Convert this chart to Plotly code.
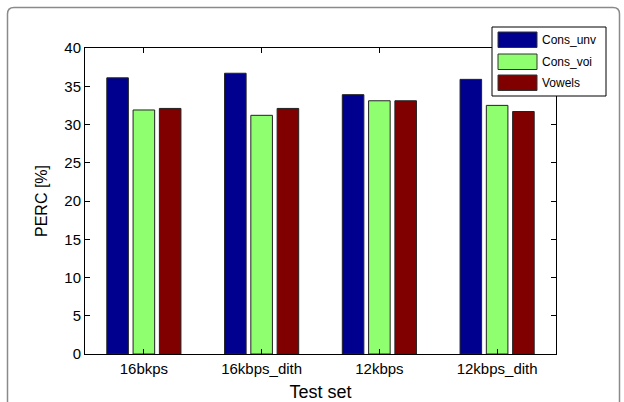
import plotly.graph_objects as go

# ---- data ----
categories = ["16bkps", "16kbps_dith", "12kbps", "12kbps_dith"]
series_names = ["Cons_unv", "Cons_voi", "Vowels"]
cons_unv = [36.1, 36.7, 33.9, 35.9]
cons_voi = [31.9, 31.2, 33.1, 32.5]
vowels = [32.1, 32.1, 33.1, 31.7]
series_values = [cons_unv, cons_voi, vowels]
series_colors = ["#00008F", "#8FFF70", "#800000"]
y_ticks = [0, 5, 10, 15, 20, 25, 30, 35, 40]

W, H = 624, 402
L, R, T, B = 85, 556, 48, 354
PW, PH = R - L, B - T

def px(x):
    return (x - L) / PW

def py(y):
    return (B - y) / PH

FONT = "Liberation Sans, Arial, Helvetica, sans-serif"

fig = go.Figure()
for name, vals, col in zip(series_names, series_values, series_colors):
    fig.add_trace(go.Bar(
        x=categories, y=vals, name=name,
        marker=dict(color=col, line=dict(color="#222222", width=1)),
        showlegend=False,
    ))

fig.update_layout(
    width=W, height=H,
    margin=dict(l=L, r=W - R, t=T, b=H - B, autoexpand=False),
    paper_bgcolor="white", plot_bgcolor="white",
    barmode="group", bargap=0.33, bargroupgap=0.18,
    font=dict(family=FONT, color="black", size=13),
)
fig.update_xaxes(
    automargin=False,
    showline=True, linecolor="black", linewidth=1, mirror="ticks",
    ticks="inside", ticklen=5, tickcolor="black",
    tickfont=dict(size=15, family=FONT), ticklabelstandoff=1,
    title=dict(text="Test set", font=dict(size=18, family=FONT), standoff=14),
    showgrid=False, zeroline=False,
)
fig.update_yaxes(
    automargin=False,
    range=[0, 40], tickvals=y_ticks,
    showline=True, linecolor="black", linewidth=1, mirror="ticks",
    ticks="inside", ticklen=5, tickcolor="black",
    tickfont=dict(size=15, family=FONT),
    title=dict(text="PERC [%]", font=dict(size=16, family=FONT), standoff=12),
    showgrid=False, zeroline=False,
)

shapes = []
# outer rounded frame
path = (f"M{px(7.5)},{py(420)} L{px(7.5)},{py(14)} "
        f"Q{px(7.5)},{py(7.5)} {px(14)},{py(7.5)} "
        f"L{px(613)},{py(7.5)} Q{px(619.5)},{py(7.5)} {px(619.5)},{py(14)} "
        f"L{px(619.5)},{py(420)}")
shapes.append(dict(type="path", xref="paper", yref="paper", path=path,
                   line=dict(color="#8a8a8a", width=1.5), layer="above"))
# legend box
shapes.append(dict(type="rect", xref="paper", yref="paper",
                   x0=px(492), x1=px(606), y0=py(96), y1=py(27),
                   fillcolor="white", line=dict(color="black", width=1),
                   layer="above"))
annotations = []
row_tops = [32, 54, 75]
for name, col, top in zip(series_names, series_colors, row_tops):
    shapes.append(dict(type="rect", xref="paper", yref="paper",
                       x0=px(498), x1=px(537), y0=py(top + 15.5), y1=py(top),
                       fillcolor=col, line=dict(color="#333333", width=1),
                       layer="above"))
    annotations.append(dict(xref="paper", yref="paper", x=px(540),
                            y=py(top + 8), text=name, showarrow=False,
                            xanchor="left", yanchor="middle",
                            font=dict(size=12, family=FONT, color="black")))
fig.update_layout(shapes=shapes, annotations=annotations)

fig.write_html("out.html", config={"displayModeBar": False},
               post_script="document.body.style.margin='0';document.body.style.overflow='hidden';")
